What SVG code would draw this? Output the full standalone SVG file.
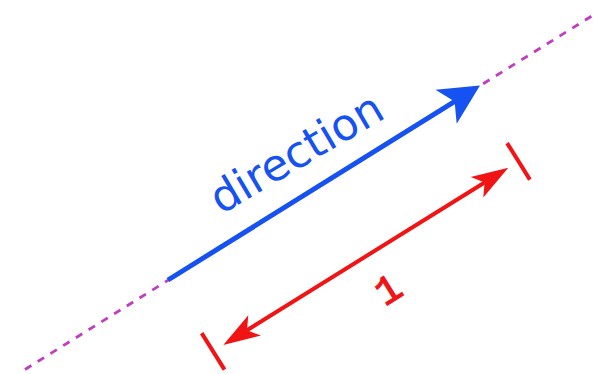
<svg xmlns="http://www.w3.org/2000/svg" width="595" height="374" viewBox="0 0 595 374">
  <style>
    .axis { stroke: #c03cc0; stroke-width: 2.8; stroke-dasharray: 7.5 7.5; fill: none; }
    .dir { stroke: #1652f2; stroke-width: 5; fill: none; }
    .dirhead { fill: #1652f2; }
    .len { stroke: #f01414; stroke-width: 4; fill: none; }
    .lenhead { fill: #f01414; }
    .tick { stroke: #f01414; stroke-width: 4; stroke-linecap: butt; }
    .lbl-dir { font-family: "DejaVu Sans", sans-serif; font-size: 44px; fill: #1652f2; text-anchor: middle; }
    .lbl-len { font-family: "Liberation Mono", monospace; font-size: 40px; fill: #f01414; stroke: #f01414; stroke-width: 1.2; text-anchor: middle; }
  </style>
  <rect width="595" height="374" fill="#ffffff"/>
  <g id="connectors">
    <line id="axis" class="axis" x1="25" y1="369.5" x2="595" y2="14"/>
    <g id="direction-arrow">
      <line class="dir" x1="168" y1="280" x2="456" y2="100.6"/>
      <polygon class="dirhead" points="480,85.5 435.5,89.7 454.6,101.4 456.7,123.7"/>
    </g>
    <g id="length-arrow">
      <line class="len" x1="247" y1="330.2" x2="484.6" y2="182.5"/>
      <polygon class="lenhead" points="508.3,167.7 470.6,177.1 484.6,182.5 483.3,197.5"/>
      <polygon class="lenhead" points="223.3,345 248.3,315.2 247,330.2 261,335.6"/>
      <line class="tick" x1="507.1" y1="143.1" x2="529.9" y2="179.6"/>
      <line class="tick" x1="201.7" y1="333.1" x2="224.5" y2="369.6"/>
    </g>
  </g>
  <g id="label-direction">
    <text class="lbl-dir" x="304" y="166" transform="rotate(-30.5 304 166)">direction</text>
  </g>
  <g id="label-length">
    <text class="lbl-len" x="395" y="300.5" transform="rotate(-32 395 300.5)">1</text>
  </g>
</svg>
